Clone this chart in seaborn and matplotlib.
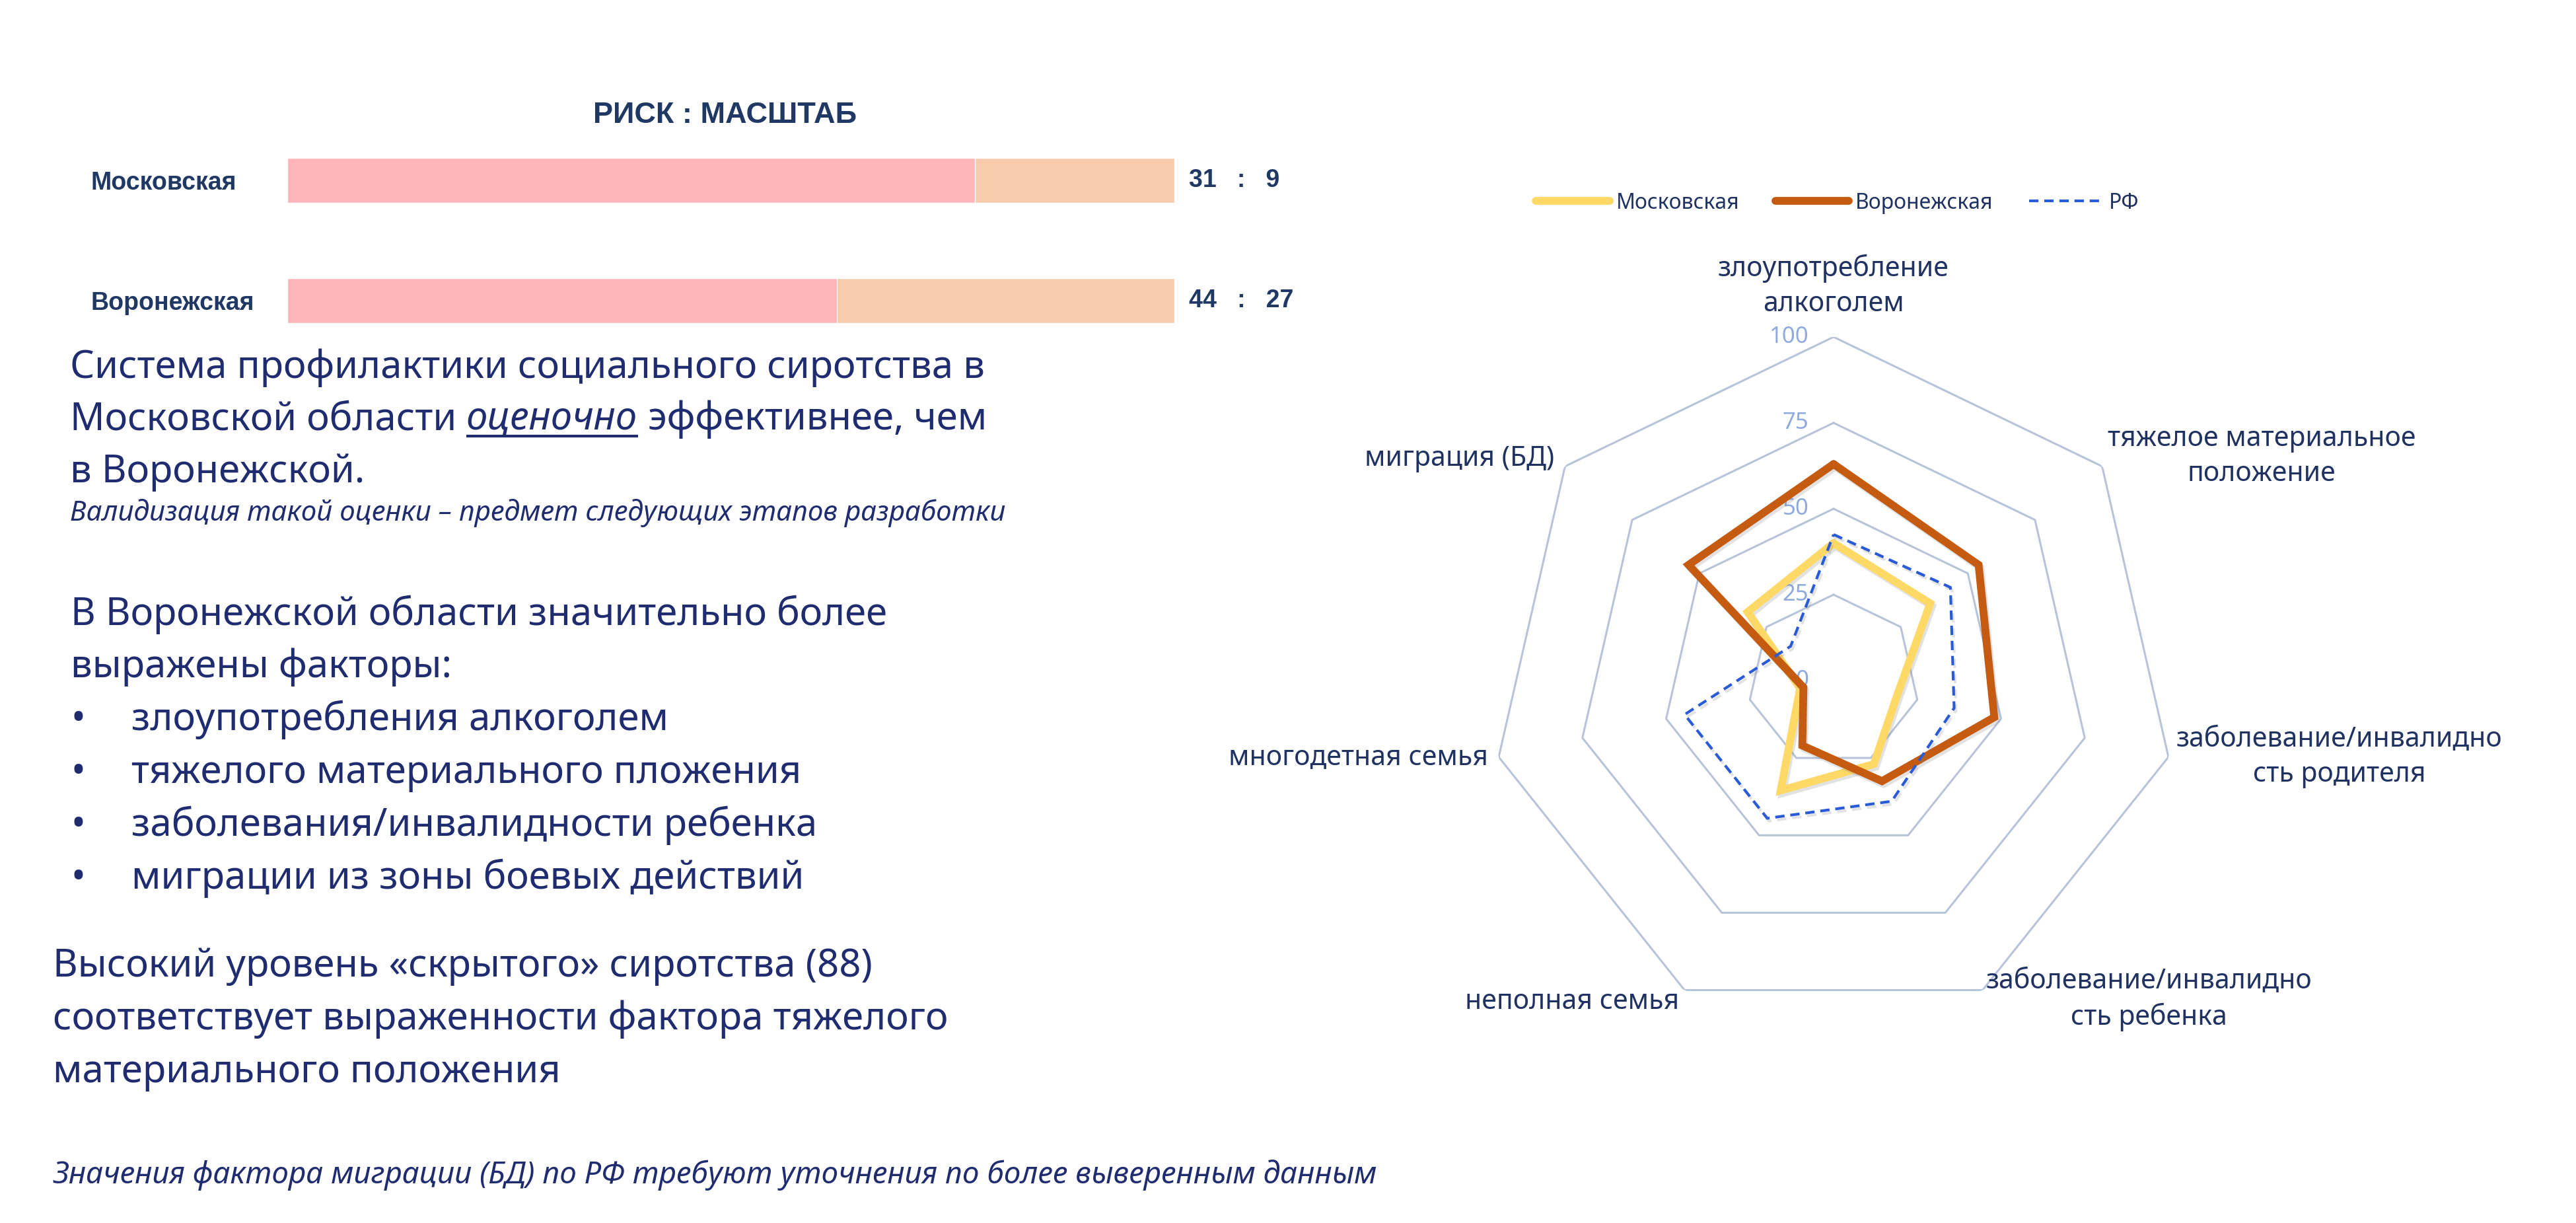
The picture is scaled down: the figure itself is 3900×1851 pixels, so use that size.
import matplotlib
matplotlib.use('Agg')
import matplotlib.pyplot as plt
import matplotlib.patheffects as pe
from matplotlib.lines import Line2D
import numpy as np
import pandas as pd
import seaborn as sns

# ---------------- data ----------------
regions = ['Московская', 'Воронежская']
risk = [31, 44]
scale = [9, 27]

factors = ['злоупотребление\nалкоголем',
           'тяжелое материальное\nположение',
           'заболевание/инвалидно\nсть родителя',
           'заболевание/инвалидно\nсть ребенка',
           'неполная семья',
           'многодетная семья',
           'миграция (БД)']
moscow = [40, 36, 19, 27, 35.5, 10, 32]
voronezh = [63, 54, 48, 32.5, 21, 9, 54]
rf = [42.5, 43.5, 36, 39, 44.5, 44.5, 16]
r_ticks = [0, 25, 50, 75, 100]

NAVY = '#1F2C70'
LABEL = '#203262'
BARTXT = '#1F3864'
RING = '#B7C3D9'
TICK = '#8FAADC'
YELLOW = '#FFD966'
ORANGE = '#C55A11'
BLUE = '#2A5BD7'
PINK = '#FFB5BA'
PEACH = '#F8CBAD'
BOLD_FONT = ['Liberation Sans', 'DejaVu Sans']

sns.set_theme(style='white')
plt.rcParams['font.family'] = ['Noto Sans', 'DejaVu Sans']

fig = plt.figure(figsize=(39, 18.51), dpi=100)
fig.patch.set_facecolor('white')

# overlay axes in pixel coordinates for the free text
tx = fig.add_axes([0, 0, 1, 1])
tx.set_xlim(0, 3900)
tx.set_ylim(1851, 0)
tx.axis('off')

# ---------------- bar chart (risk : scale) ----------------
bar_df = pd.DataFrame({'region': regions, 'risk': risk, 'scale': scale})
bar_df['total'] = 100
bar_df['risk_pct'] = bar_df['risk'] / (bar_df['risk'] + bar_df['scale']) * 100

axb = fig.add_axes([435 / 3900, 1 - 546 / 1851, 1343 / 3900, 364 / 1851])
sns.barplot(data=bar_df, x='total', y='region', orient='h', color=PEACH,
            saturation=1, width=0.37, errorbar=None, ax=axb)
sns.barplot(data=bar_df, x='risk_pct', y='region', orient='h', color=PINK,
            saturation=1, width=0.37, errorbar=None, ax=axb)
axb.set_xlim(0, 100)
axb.set_ylim(1.5, -0.5)
axb.set_xlabel('')
axb.set_ylabel('')
axb.set_xticks([])
axb.patch.set_alpha(0)
sns.despine(ax=axb, left=True, bottom=True)
axb.tick_params(axis='y', length=0, pad=214)
for lbl in axb.get_yticklabels():
    lbl.set_ha('left')
    lbl.set_family(BOLD_FONT)
    lbl.set_fontweight('bold')
    lbl.set_fontsize(27)
    lbl.set_color(BARTXT)
for i, (r, s) in enumerate(zip(risk, scale)):
    axb.annotate(f'{r}   :   {s}', xy=(100, i), xytext=(16, 0),
                 textcoords='offset points', ha='left', va='center',
                 fontsize=27, fontweight='bold', family=BOLD_FONT, color=BARTXT)

fig.text(1098 / 3900, 1 - 174 / 1851, 'РИСК : МАСШТАБ', ha='center', va='center',
         fontsize=32.5, fontweight='bold', family=BOLD_FONT, color=BARTXT)

# ---------------- radar chart ----------------
theta = np.linspace(0, 2 * np.pi, len(factors), endpoint=False)
theta_c = np.append(theta, 2 * np.pi)

axr = fig.add_axes([2256 / 3900, 1 - 1550 / 1851, 1040 / 3900, 1040 / 1851],
                   projection='polar')
axr.set_theta_zero_location('N')
axr.set_theta_direction(-1)

for r in r_ticks[1:]:
    axr.plot(theta_c, [r] * len(theta_c), color=RING, lw=2.2, zorder=1)

shadow = [pe.SimpleLineShadow(offset=(2, -3), shadow_color='#7f7f7f', alpha=0.22),
          pe.Normal()]
series = [('Московская', moscow, YELLOW, 8.5, '-'),
          ('Воронежская', voronezh, ORANGE, 8.5, '-'),
          ('РФ', rf, BLUE, 3, (0, (3.4, 2.1)))]
handles = []
for name, vals, col, lw, ls in series:
    sns.lineplot(x=theta_c, y=vals + vals[:1], sort=False, estimator=None,
                 color=col, lw=lw, linestyle=ls, solid_joinstyle='miter',
                 dash_joinstyle='miter', path_effects=shadow, ax=axr, zorder=3)
    handles.append(Line2D([], [], color=col, lw=lw, linestyle=ls,
                          solid_capstyle='round'))

axr.set_ylim(0, 100)
axr.set_xlabel('')
axr.set_ylabel('')
axr.grid(False)
axr.set_xticks([])
axr.set_yticks([])
axr.spines['polar'].set_visible(False)
axr.set_facecolor('none')

for r in r_ticks:
    axr.annotate(str(r), xy=(0, r), xytext=(-27, 0), textcoords='offset points',
                 ha='right', va='center', fontsize=25, color=TICK, zorder=2)

offs_px = [(0, 29), (8, 15), (12, 0), (5, -14), (-8, -17), (-16, 0), (-16, 12)]
has = ['center', 'left', 'left', 'left', 'right', 'right', 'right']
vas = ['bottom', 'center', 'center', 'center', 'center', 'center', 'center']
for t, lab, (ox, oy), ha, va in zip(theta, factors, offs_px, has, vas):
    axr.annotate(lab, xy=(t, 100), xytext=(ox * 0.72, oy * 0.72),
                 textcoords='offset points', ha=ha, va=va, multialignment='center',
                 fontsize=29.5, color=LABEL, linespacing=1.35, annotation_clip=False)

fig.legend(handles, [s[0] for s in series], loc='center',
           bbox_to_anchor=(2782 / 3900, 1 - 307 / 1851), ncol=3, frameon=False,
           fontsize=23, handlelength=3.5, handletextpad=0.3, columnspacing=1.7,
           labelcolor=LABEL)

# ---------------- text block ----------------
BIG = 41.8
tx.text(106, 572, 'Система профилактики социального сиротства в', fontsize=BIG,
        color=NAVY, va='baseline')
t1 = tx.text(106, 650, 'Московской области', fontsize=BIG, color=NAVY, va='baseline')
sp = 0.26 * BIG
t2 = tx.annotate('оценочно', xy=(1, 0), xycoords=t1, xytext=(sp, 0),
                 textcoords='offset points', ha='left', va='bottom',
                 fontsize=BIG, style='italic', color=NAVY)
tx.annotate('эффективнее, чем', xy=(1, 0), xycoords=t2, xytext=(sp, 0),
            textcoords='offset points', ha='left', va='bottom',
            fontsize=BIG, color=NAVY)
tx.text(106, 730, 'в Воронежской.', fontsize=BIG, color=NAVY, va='baseline')
tx.text(106, 788, 'Валидизация такой оценки – предмет следующих этапов разработки',
        fontsize=30.3, style='italic', color=NAVY, va='baseline')

tx.text(107, 946, 'В Воронежской области значительно более', fontsize=BIG,
        color=NAVY, va='baseline')
tx.text(107, 1025, 'выражены факторы:', fontsize=BIG, color=NAVY, va='baseline')
bullets = ['злоупотребления алкоголем', 'тяжелого материального пложения',
           'заболевания/инвалидности ребенка', 'миграции из зоны боевых действий']
for k, b in enumerate(bullets):
    y = 1105 + 80 * k
    tx.text(107, y, '•', fontsize=BIG, color=NAVY, va='baseline')
    tx.text(199, y, b, fontsize=BIG, color=NAVY, va='baseline')

tx.text(80, 1478, 'Высокий уровень «скрытого» сиротства (88)', fontsize=BIG,
        color=NAVY, va='baseline')
tx.text(80, 1558, 'соответствует выраженности фактора тяжелого', fontsize=BIG,
        color=NAVY, va='baseline')
tx.text(80, 1638, 'материального положения', fontsize=BIG, color=NAVY, va='baseline')
tx.text(80, 1791, 'Значения фактора миграции (БД) по РФ требуют уточнения по более '
        'выверенным данным', fontsize=33, style='italic', color=NAVY, va='baseline')

# underline the italic word
fig.canvas.draw()
bb = t2.get_window_extent()
tx.plot([bb.x0, bb.x1], [660, 660], color=NAVY, lw=3, solid_capstyle='butt')

fig.savefig('out.png', dpi=100, facecolor='white')
